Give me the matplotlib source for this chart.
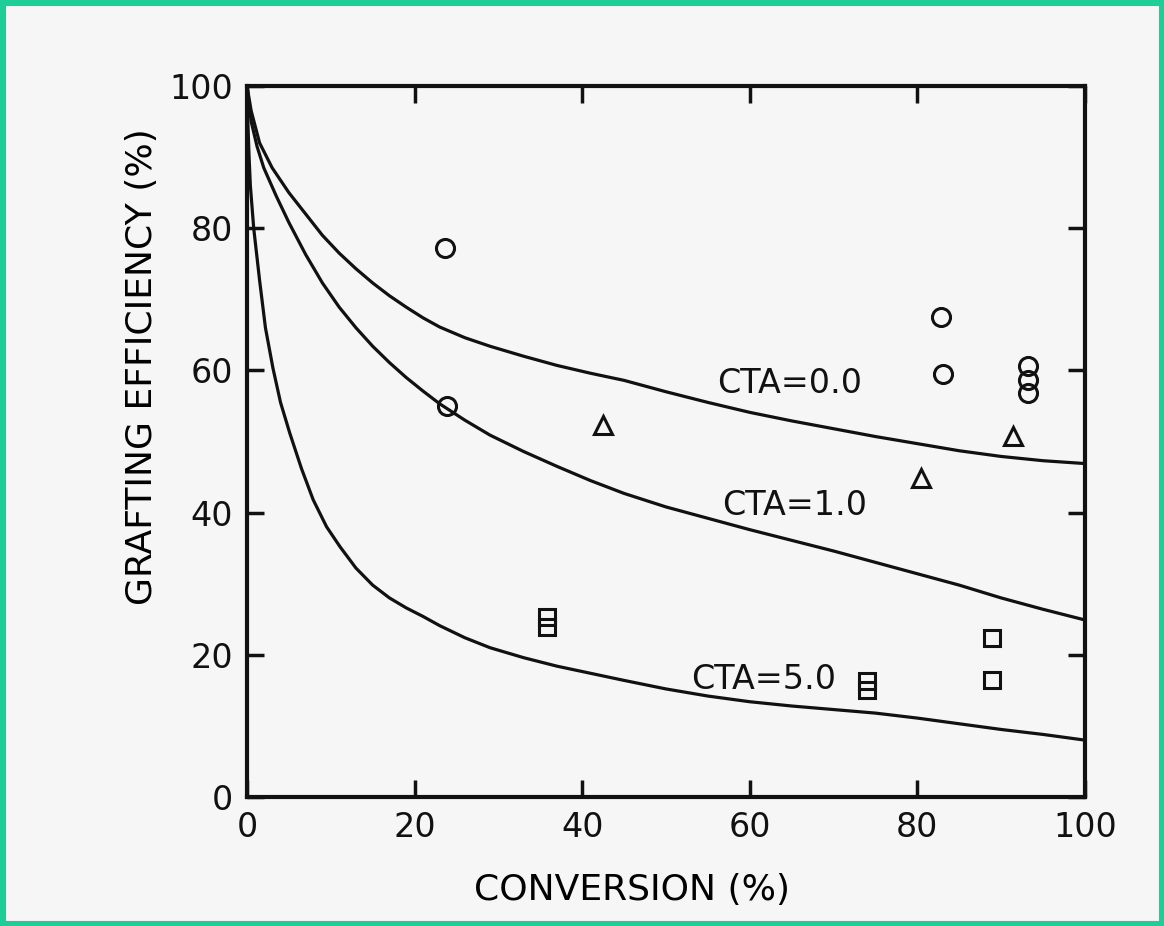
import matplotlib.pyplot as plt
from matplotlib.patches import Rectangle

# model curves, points
cta0_x = [0, 0.5, 1.5, 3, 5, 7, 9, 11, 13, 15, 17, 19, 21, 23, 26, 29, 33, 37, 41, 45,
          50, 55, 60, 65, 70, 75, 80, 85, 90, 95, 100]
cta0_y = [100, 96.5, 92, 88.5, 85, 82, 79, 76.5, 74.3, 72.3, 70.5, 68.9, 67.4, 66.1, 64.6,
          63.4, 62.0, 60.7, 59.6, 58.6, 57.0, 55.5, 54.1, 52.9, 51.8, 50.7, 49.7, 48.7,
          47.9, 47.3, 46.9]

cta1_x = [0, 0.5, 1.2, 2, 3.5, 5, 7, 9, 11, 13, 15, 17, 19, 21, 23, 26, 29, 33, 37, 41, 45,
          50, 55, 60, 65, 70, 75, 80, 85, 90, 95, 100]
cta1_y = [100, 95, 91.5, 88.5, 84.5, 80.8, 76.3, 72.3, 68.9, 66.0, 63.4, 61.1, 59.0, 57.1,
          55.3, 53.0, 50.9, 48.6, 46.5, 44.5, 42.7, 40.8, 39.2, 37.6, 36.1, 34.6, 33.0,
          31.4, 29.8, 28.0, 26.4, 24.9]

cta5_x = [0, 0.1, 0.25, 0.4, 0.8, 1.5, 2.2, 3.1, 4, 5.1, 6.5, 7.9, 9.5, 11.1, 13, 15, 17,
          19, 21, 23, 26, 29, 33, 37, 41, 45, 50, 55, 60, 65, 70, 75, 80, 85, 90, 95, 100]
cta5_y = [100, 95, 90, 86, 80, 72.7, 66, 60.3, 55.5, 51.2, 46.2, 41.8, 38, 35.2, 32.2, 29.8,
          28.0, 26.6, 25.4, 24.1, 22.4, 21.0, 19.6, 18.4, 17.4, 16.4, 15.2, 14.2, 13.4,
          12.8, 12.3, 11.8, 11.1, 10.3, 9.5, 8.8, 8.0]

# measured points
circle_x = [23.6, 23.9, 82.8, 83.0, 93.2, 93.2, 93.2]
circle_y = [77.2, 55.0, 67.5, 59.5, 60.6, 58.6, 56.8]

triangle_x = [42.5, 80.4, 91.4]
triangle_y = [52.3, 44.9, 50.8]

square_x = [35.8, 35.8, 74.0, 74.0, 88.9, 88.9]
square_y = [25.3, 23.9, 16.3, 15.0, 22.4, 16.5]

curve_labels = ["CTA=0.0", "CTA=1.0", "CTA=5.0"]
label_pos = [(64.8, 58.1), (65.4, 41.0), (61.7, 16.5)]

fig = plt.figure(figsize=(11.64, 9.26), dpi=100)
fig.patch.set_facecolor("#f6f6f6")
fig.patches.append(Rectangle((0, 0), 1, 1, transform=fig.transFigure, fill=False,
                             edgecolor="#1dcf97", linewidth=8))

ax = fig.add_axes([0.2122, 0.1393, 0.7199, 0.7678])
ax.set_facecolor("#f6f6f6")

for xs, ys in [(cta0_x, cta0_y), (cta1_x, cta1_y), (cta5_x, cta5_y)]:
    ax.plot(xs, ys, color="#111111", linewidth=2.3, solid_joinstyle="round")

mk = dict(linestyle="none", markerfacecolor="none", markeredgecolor="#111111",
          markeredgewidth=2.2)
ax.plot(circle_x, circle_y, marker="o", markersize=13, **mk)
ax.plot(triangle_x, triangle_y, marker="^", markersize=13, **mk)
ax.plot(square_x, square_y, marker="s", markersize=12, **mk)

for lab, (lx, ly) in zip(curve_labels, label_pos):
    ax.text(lx, ly, lab, fontsize=24, ha="center", va="center", color="#111111")

ax.set_xlim(0, 100)
ax.set_ylim(0, 100)
ax.set_xticks([0, 20, 40, 60, 80, 100])
ax.set_yticks([0, 20, 40, 60, 80, 100])
ax.tick_params(direction="in", length=12, width=2.5, labelsize=24, pad=10,
               top=True, right=True, colors="#111111")
for s in ax.spines.values():
    s.set_linewidth(3)
    s.set_color("#111111")

ax.set_xlabel("CONVERSION (%)", fontsize=26)
ax.set_ylabel("GRAFTING EFFICIENCY (%)", fontsize=26)
ax.xaxis.set_label_coords(0.46, -0.107)
ax.yaxis.set_label_coords(-0.105, 0.605)

fig.savefig("out.png", dpi=100, facecolor=fig.get_facecolor())
